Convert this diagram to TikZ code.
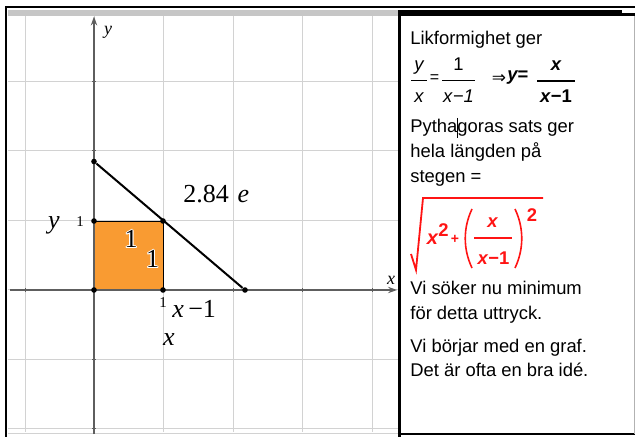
\documentclass[tikz,border=0pt]{standalone}
\usepackage{fontspec}
\usepackage[copies]{contour}
\usetikzlibrary{arrows.meta}
\newfontfamily\panelfont{Liberation Sans}
\newfontfamily\graphfont{Liberation Serif}
\newfontfamily\arrowfont{DejaVu Sans}
\definecolor{gridgray}{HTML}{D2D2D2}
\definecolor{axisgray}{HTML}{5E5E5E}
\definecolor{headgray}{HTML}{C6C6C6}
\definecolor{squareorange}{HTML}{F99B32}
\definecolor{exprred}{HTML}{FF1414}
\contourlength{0.5pt}

\begin{document}
\begin{tikzpicture}[
  x=0.5pt,y=-0.5pt,
  gridline/.style={draw=gridgray,line width=0.5pt},
  axisline/.style={draw=axisgray,line width=0.65pt,-{Stealth[length=4.5pt,width=3.2pt]}},
  tickmark/.style={draw=axisgray,line width=0.5pt},
  dot/.style={circle,fill=black,inner sep=0pt,minimum size=2.8pt},
  biglbl/.style={inner sep=0pt,font=\graphfont\fontsize{13}{15}\selectfont},
  ticklbl/.style={inner sep=0pt,font=\graphfont\fontsize{7.5}{9}\selectfont},
  axislbl/.style={inner sep=0pt,font=\graphfont\itshape\fontsize{9}{10}\selectfont},
  note/.style={inner sep=0pt,anchor=base west,font=\panelfont\fontsize{9.2}{11}\selectfont},
  mth/.style={inner sep=0pt,anchor=base,font=\panelfont\fontsize{9.2}{11}\selectfont},
  expr/.style={inner sep=0pt,anchor=base,text=exprred,font=\panelfont\bfseries\fontsize{9.2}{11}\selectfont}
]
\useasboundingbox (0,0) rectangle (635,437);

% Frames of the two panels.
\fill[headgray] (8,10) rectangle (398,16);
\draw[line width=0.8pt] (6,437) -- (6,7) -- (635,7);
\fill[black] (398,10) rectangle (622,16);
\fill[black] (622,13) rectangle (635,16);
\fill[black] (398,10) rectangle (401,437);
\draw[line width=0.6pt] (401,434) -- (635,434);
\draw[gray!60,line width=0.5pt] (634,16) -- (634,434);
\draw[gridline] (8,433) -- (398,433);

% Grid, square and axes.
\foreach \gx in {25,94,163,233,302,372}{\draw[gridline] (\gx,16) -- (\gx,432);}
\foreach \gy in {82,151,221,290,359,428}{\draw[gridline] (8,\gy) -- (398,\gy);}
\fill[squareorange] (94,221) rectangle (163,290);
\draw[line width=0.45pt] (94,221) -- (163,221) -- (163,290);

\coordinate (xstart) at (10,290);
\coordinate (xend) at (397,290);
\coordinate (ystart) at (94,434);
\coordinate (yend) at (94,16.5);
\draw[axisline] (xstart) -- (xend);
\draw[axisline] (ystart) -- (yend);
\foreach \gx in {25,163,233,302,372}{\draw[tickmark] (\gx,288) -- (\gx,292);}
\foreach \gy in {82,151,221,359,428}{\draw[tickmark] (92,\gy) -- (96,\gy);}
\node[axislbl] (ylab) at (108,32) {y};
\node[axislbl] (xlab) at (391,280) {x};

% The ladder over the box.
\node[dot] (ladtop) at (94,161.5) {};
\node[dot] (ladfoot) at (245,290) {};
\draw[line width=1pt] (ladtop) -- (ladfoot);
\node[dot] (orig) at (94,290) {};
\node[dot] (xone) at (163,290) {};
\node[dot] (yone) at (94,221) {};
\node[dot] (corner) at (163,221) {};

\node[biglbl,anchor=base] (ysym) at (54,229) {\itshape y};
\node[ticklbl,anchor=base] (yonelab) at (80,227) {1};
\node[ticklbl,anchor=base] (xonelab) at (163,307) {1};
\node[biglbl,anchor=base] (sqtop) at (131,248) {\contour{white}{1}};
\node[biglbl,anchor=base] (sqside) at (152.5,268) {\contour{white}{1}};
\node[biglbl,anchor=base west] (len) at (183,203) {2.84\,\,\itshape e};
\node[biglbl,anchor=base west] (xmin) at (172,318) {\itshape x\/\upshape\,−1};
\node[biglbl,anchor=base] (xsym) at (169,345) {\itshape x};

% Notes in the right panel.
\node[note] (l1) at (410,45) {Likformighet ger};
\node[mth] (fy) at (419,71) {\itshape y};
\draw[line width=0.5pt] (411,81) -- (427,81);
\node[mth] (fx) at (419,103) {\itshape x};
\node[inner sep=0pt,font=\panelfont\fontsize{8}{8}\selectfont] (eq1) at (434.5,79) {=};
\node[mth] (fone) at (458.5,71) {1};
\draw[line width=0.5pt] (442,81) -- (475,81);
\node[mth] (fxm) at (458.5,103) {\itshape x\/−1};
\node[inner sep=0pt,font=\arrowfont\fontsize{8.5}{9}\selectfont] (impl) at (499,79) {⇒};
\node[note,font=\panelfont\bfseries\fontsize{9.2}{11}\selectfont] (yeq) at (507,81) {\itshape y\upshape=};
\node[mth,font=\panelfont\bfseries\fontsize{9.2}{11}\selectfont] (gx) at (556,71) {\itshape x};
\draw[line width=1pt] (537,81) -- (575,81);
\node[mth,font=\panelfont\bfseries\fontsize{9.2}{11}\selectfont] (gxm) at (556,103) {\itshape x\/\upshape−1};

\node[note] (l3) at (410,133) {Pythagoras sats ger};
\draw[line width=0.4pt] (457.5,118) -- (457.5,138);
\node[note] (l4) at (410,158) {hela längden på};
\node[note] (l5) at (410,183) {stegen =};

% Red root expression.
\draw[exprred,line width=0.9pt,line join=miter] (411,254) -- (416,270) -- (423,198) -- (543,198);
\node[expr,font=\panelfont\bfseries\itshape\fontsize{10}{11}\selectfont] (rx) at (432.5,245) {x};
\node[expr] (rsq) at (443.5,237) {2};
\node[expr,anchor=center,font=\panelfont\bfseries\fontsize{7}{8}\selectfont] (rplus) at (455,239) {+};
\draw[exprred,line width=0.8pt] (472,209) .. controls (463,228) and (463,249) .. (472,268);
\node[expr] (rfx) at (492.5,228) {\itshape x};
\draw[exprred,line width=1pt] (474,238) -- (512,238);
\node[expr] (rfxm) at (493.5,265) {\itshape x\/\upshape−1};
\draw[exprred,line width=0.8pt] (515,209) .. controls (524,228) and (524,249) .. (515,268);
\node[expr] (rout) at (532,222) {2};

\node[note] (l6) at (410,295) {Vi söker nu minimum};
\node[note] (l7) at (410,320) {för detta uttryck.};
\node[note] (l8) at (410,352) {Vi börjar med en graf.};
\node[note] (l9) at (410,376) {Det är ofta en bra idé.};
\end{tikzpicture}
\end{document}
